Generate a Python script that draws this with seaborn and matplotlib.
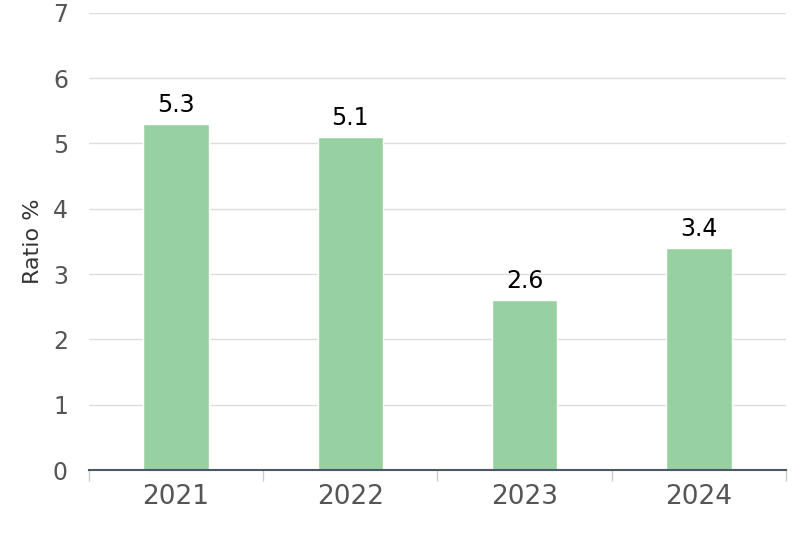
import matplotlib
matplotlib.use("Agg")
import matplotlib.pyplot as plt
import seaborn as sns
import pandas as pd
from matplotlib.ticker import FixedLocator

# chart data
years = ["2021", "2022", "2023", "2024"]
ratios = [5.3, 5.1, 2.6, 3.4]

df = pd.DataFrame({"year": years, "ratio": ratios})

sns.set_style("white")
plt.rcParams['font.family'] = ['DejaVu Sans']

fig = plt.figure(figsize=(8, 5.33), dpi=100)
ax = fig.add_axes([0.111, 0.118, 0.8715, 0.858])

sns.barplot(data=df, x="year", y="ratio", color="#98d1a1", width=0.375,
            saturation=1, ax=ax, zorder=3)

for i, v in enumerate(ratios):
    ax.annotate(f"{v}", (i, v), xytext=(0, 5), textcoords="offset points",
                ha="center", va="bottom", fontsize=17, color="black")

ax.set_ylim(0, 7)
ax.set_xlim(-0.5, len(years) - 0.5)
ax.set_yticks(range(0, 8))
ax.yaxis.grid(True, color="#dddddd", linewidth=1, zorder=0)
ax.set_axisbelow(True)

for s in ["top", "right", "left"]:
    ax.spines[s].set_visible(False)
ax.spines["bottom"].set_color("#4d5866")
ax.spines["bottom"].set_linewidth(1.5)
ax.spines["bottom"].set_zorder(4)

ax.tick_params(axis="y", left=False, length=0, labelsize=17, labelcolor="#555555", pad=15)
ax.tick_params(axis="x", which="major", bottom=False, length=0, labelsize=19,
               labelcolor="#555555", pad=10)
ax.xaxis.set_minor_locator(FixedLocator([i - 0.5 for i in range(len(years) + 1)]))
ax.tick_params(axis="x", which="minor", bottom=True, length=8, color="#cccccc", width=1)

ax.set_xlabel("")
ax.set_ylabel("Ratio %", fontsize=16, color="#333333", labelpad=7)

fig.savefig("out.png", dpi=100)
plt.close(fig)
